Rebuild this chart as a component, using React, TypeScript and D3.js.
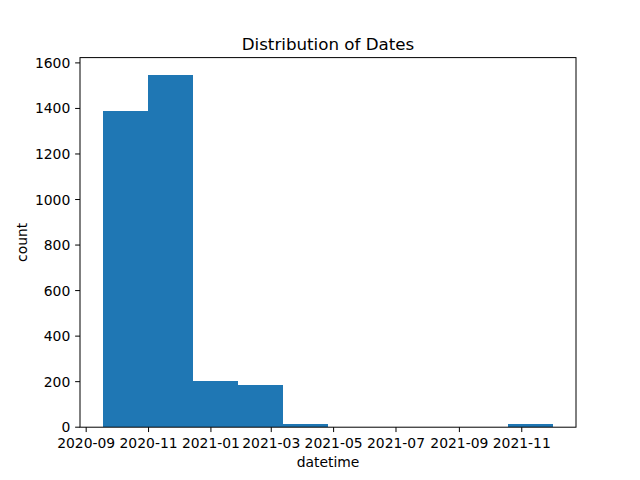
import React from "react";
import * as d3 from "d3";

const binStart = "2020-09-17";
const binEnd = "2021-12-02";
const counts = [1388, 1546, 203, 186, 14, 0, 0, 0, 0, 14];
const xTickDates = ["2020-09-01", "2020-11-01", "2021-01-01", "2021-03-01", "2021-05-01", "2021-07-01", "2021-09-01", "2021-11-01"];
const yTicks = [0, 200, 400, 600, 800, 1000, 1200, 1400, 1600];
const title = "Distribution of Dates";
const xLabel = "datetime";
const yLabel = "count";

const W = 640, H = 480;
const L = 80, R = 576, T = 57.6, B = 427.2;
const font = "DejaVu Sans, sans-serif";
const color = "#1f77b4";

export default function App() {
  const parse = d3.utcParse("%Y-%m-%d");
  const d0 = parse(binStart)!;
  const d1 = parse(binEnd)!;
  const n = counts.length;
  const span = d1.getTime() - d0.getTime();
  const edges = d3.range(n + 1).map((i) => new Date(d0.getTime() + (span * i) / n));
  const pad = span * 0.05;
  const x = d3.scaleUtc().domain([new Date(d0.getTime() - pad), new Date(d1.getTime() + pad)]).range([L, R]);
  const yMax = d3.max(counts)! * 1.05;
  const y = d3.scaleLinear().domain([0, yMax]).range([B, T]);
  const tickLen = 4.86;
  const fmt = d3.utcFormat("%Y-%m");
  return (
    <svg width={W} height={H} style={{ position: "absolute", left: 0, top: 0, background: "#fff" }} fontFamily={font}>
      <rect x={0} y={0} width={W} height={H} fill="#fff" />
      <g shapeRendering="crispEdges">
        {counts.map((c, i) => (
          <rect key={i} x={x(edges[i])} width={x(edges[i + 1]) - x(edges[i])} y={y(c)} height={B - y(c)} fill={color} />
        ))}
      </g>
      <rect x={L} y={T} width={R - L} height={B - T} fill="none" stroke="#000" strokeWidth={1} />
      {xTickDates.map((s) => {
        const d = parse(s)!;
        const px = x(d);
        return (
          <g key={s}>
            <line x1={px} x2={px} y1={B} y2={B + tickLen} stroke="#000" strokeWidth={1} />
            <text x={px} y={447.5} textAnchor="middle" fontSize={13.9} fill="#000">{fmt(d)}</text>
          </g>
        );
      })}
      {yTicks.map((t) => (
        <g key={t}>
          <line x1={L - tickLen} x2={L} y1={y(t)} y2={y(t)} stroke="#000" strokeWidth={1} />
          <text x={70.3} y={y(t)} dy="0.36em" textAnchor="end" fontSize={13.9} fill="#000">{t}</text>
        </g>
      ))}
      <text x={(L + R) / 2} y={49.5} textAnchor="middle" fontSize={16.7} fill="#000">{title}</text>
      <text x={(L + R) / 2} y={467} textAnchor="middle" fontSize={13.9} fill="#000">{xLabel}</text>
      <text transform={`translate(26.5, ${(T + B) / 2}) rotate(-90)`} textAnchor="middle" fontSize={13.9} fill="#000">{yLabel}</text>
    </svg>
  );
}
